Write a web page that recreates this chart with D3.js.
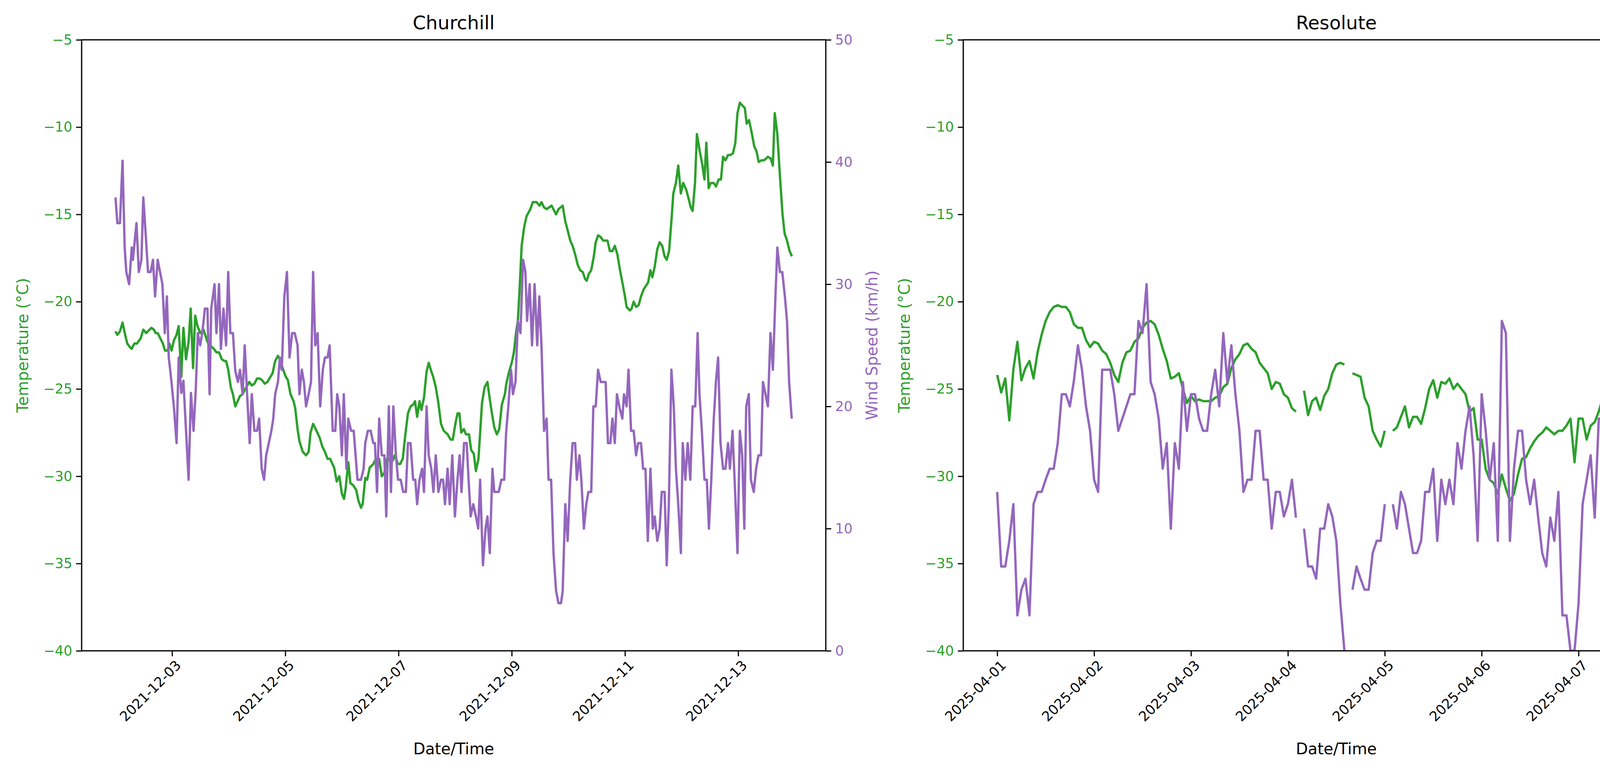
<!DOCTYPE html>
<html>
<head>
<meta charset="utf-8">
<script src="https://cdn.jsdelivr.net/npm/d3@7"></script>
<style>
body { margin: 0; background: #fff; }
text { font-family: "DejaVu Sans", sans-serif; }
</style>
</head>
<body>
<svg id="chart" width="4554" height="1980"></svg>
<script>
// Churchill: [hours since 2021-12-02 00:00, value]
var churchill_temp = [
[0,-21.7],[0.8,-21.9],[1.9,-21.7],[3,-21.2],[4.1,-21.9],[5,-22.4],[6.1,-22.6],[6.9,-22.7],[8,-22.4],[9.1,-22.4],
[10.7,-22.1],[11.8,-21.6],[13,-21.8],[15.2,-21.5],[16.3,-21.6],[17,-21.8],[17.9,-21.8],[19,-22.1],[20.1,-22.4],[21,-22.8],
[22.1,-22.8],[22.9,-22.4],[23.8,-22.8],[24.8,-22.2],[25.9,-21.9],[26.8,-21.4],[27.9,-24.3],[28.8,-21.5],[29.9,-23.3],[31,-22.3],
[31.9,-20.4],[32.9,-23.8],[33.8,-20.8],[34.8,-21.4],[35.9,-21.8],[37.3,-21.6],[39,-22.3],[40.1,-22.5],[41.7,-22.7],[42.8,-22.9],
[43.9,-22.9],[45.1,-23.3],[46.2,-23.4],[46.9,-23.4],[47.8,-23.9],[48.9,-24.9],[49.8,-25.3],[50.8,-26.0],[51.8,-25.7],[52.8,-25.4],
[53.9,-25.3],[55,-25.0],[56.7,-24.6],[57.8,-24.8],[58.9,-24.7],[60,-24.4],[61.1,-24.4],[62.2,-24.5],[63.3,-24.7],[64.4,-24.6],
[66.6,-24.1],[67.7,-23.4],[68.9,-23.1],[70,-23.4],[71.1,-23.9],[72.2,-24.3],[73.1,-24.5],[74.2,-25.3],[75.5,-25.7],[76.2,-26.1],
[77.2,-27.3],[78,-28.0],[79.4,-28.6],[80.8,-28.8],[81.9,-28.6],[82.7,-27.5],[83.8,-27.0],[84.9,-27.3],[86.6,-27.8],[87.7,-28.3],
[88.8,-28.6],[89.9,-29.0],[91,-29.0],[92.7,-29.5],[93.8,-30.3],[94.9,-30.0],[96,-31.0],[96.9,-31.3],[97.6,-30.7],[98.7,-29.2],
[99.6,-30.4],[100.7,-30.5],[102.1,-30.8],[103,-31.4],[104.1,-31.8],[104.8,-31.6],[105.9,-30.1],[106.7,-30.2],[107.8,-29.5],[109.3,-29.3],
[110.4,-29.0],[111.8,-29.0],[112.9,-30.0],[114,-29.8],[115.1,-29.0],[116.5,-29.1],[117.6,-29.1],[118.4,-28.8],[119.8,-29.3],[120.7,-29.3],
[121.8,-29.0],[122.9,-27.6],[124,-26.4],[125.1,-26.0],[126.2,-25.9],[127,-25.7],[127.9,-26.6],[128.9,-25.7],[129.7,-26.2],[130.8,-25.5],
[131.9,-24.0],[132.8,-23.5],[133.9,-24.0],[134.7,-24.3],[135.8,-24.9],[136.9,-25.8],[138,-27.0],[139.2,-27.4],[140.8,-27.6],[142.1,-27.9],
[143,-27.9],[144.1,-27.0],[145,-26.4],[145.8,-26.4],[146.6,-27.5],[147.7,-27.3],[148.6,-27.6],[149.9,-27.6],[150.8,-28.5],[151.9,-28.7],
[152.8,-29.7],[153.9,-29.0],[155.4,-25.8],[156.5,-24.9],[157.7,-24.6],[158.5,-25.4],[159.6,-26.4],[160.6,-27.2],[161.7,-27.6],[162.7,-27.3],
[163.8,-25.9],[165.1,-25.3],[165.7,-24.7],[166.7,-24.1],[168,-23.5],[168.9,-22.9],[169.9,-21.7],[170.6,-21.1],[171.4,-19.1],[172.2,-16.8],
[173.3,-15.7],[174.3,-15.1],[175.9,-14.7],[176.9,-14.3],[178.5,-14.3],[179.8,-14.5],[180.6,-14.3],[181.7,-14.6],[182.8,-14.7],[184.9,-14.5],
[186.8,-15.0],[187.8,-14.7],[189.6,-14.5],[190.7,-15.4],[191.7,-15.9],[192.8,-16.5],[193.8,-16.8],[194.9,-17.3],[196,-17.9],[197,-18.2],
[198.1,-18.3],[199.1,-18.7],[199.8,-18.8],[200.7,-18.4],[201.7,-18.2],[202.8,-17.4],[203.6,-16.6],[204.6,-16.2],[205.7,-16.3],[206.8,-16.5],
[208.6,-16.5],[209.6,-17.1],[210.7,-17.1],[211.7,-16.8],[212.8,-17.3],[213.9,-18.2],[214.9,-18.9],[216,-19.7],[216.7,-20.3],[218.1,-20.5],
[218.8,-20.4],[219.7,-20.0],[220.7,-20.3],[221.8,-20.2],[222.8,-19.7],[223.9,-19.3],[225.8,-18.9],[226.8,-18.2],[227.6,-18.6],[228.6,-18.0],
[229.7,-17.0],[230.7,-16.6],[231.8,-16.8],[232.8,-17.4],[233.7,-17.6],[234.7,-17.1],[235.8,-15.2],[236.5,-13.8],[237.6,-13.2],[238.6,-12.2],
[239.7,-13.8],[240.7,-13.2],[242,-13.6],[242.8,-14.0],[243.9,-14.6],[244.7,-14.8],[245.7,-13.2],[246.5,-10.4],[247.6,-11.3],[248.6,-12.0],
[249.7,-13.0],[250.5,-10.9],[251.5,-13.5],[252.3,-13.2],[253.6,-13.2],[254.6,-13.4],[255.7,-13.0],[256.7,-13.0],[257.6,-11.7],[258.6,-11.9],
[259.7,-11.6],[260.7,-11.6],[261.8,-11.5],[262.8,-10.9],[263.7,-9.2],[264.7,-8.6],[266,-8.8],[266.8,-8.9],[267.6,-9.8],[268.6,-9.6],
[269.7,-10.3],[270.8,-11.1],[271.8,-11.4],[272.7,-12.0],[273.9,-11.9],[275,-11.9],[276.6,-11.7],[277.8,-11.8],[278.7,-12.2],[279.5,-9.2],
[280.6,-10.4],[281.8,-13.0],[282.8,-15.0],[283.7,-16.1],[284.7,-16.5],[285.8,-17.1],[286.8,-17.4]
];

var churchill_wind = [
[0,37.1],[0.8,35.0],[1.9,35.0],[3,40.1],[3.9,33.0],[4.6,31.0],[5.8,30.0],[6.9,33.0],[7.4,32.0],[8.9,35.0],
[9.9,31.0],[11,32.0],[11.8,37.1],[13,33.5],[13.8,31.0],[14.9,31.0],[15.9,32.0],[16.8,29.0],[17.9,32.0],[19,30.9],
[19.9,30.0],[20.9,26.0],[21.8,29.0],[22.6,24.0],[23.7,22.1],[24.8,19.9],[25.9,17.0],[26.8,24.0],[27.9,21.1],[28.8,22.1],
[29.9,18.1],[31,14.0],[32,21.1],[33.1,18.0],[34,21.2],[34.9,26.0],[35.9,25.0],[36.8,26.0],[37.9,28.0],[39,28.0],
[39.9,21.0],[40.6,28.0],[42,30.0],[42.8,26.0],[43.9,30.0],[44.7,24.7],[45.8,28.0],[46.9,25.0],[47.8,31.0],[48.7,26.0],
[49.8,26.0],[50.8,22.9],[51.9,22.0],[52.8,23.0],[53.9,21.0],[54.8,25.0],[55.8,21.0],[56.9,17.0],[57.8,21.0],[58.9,18.0],
[60,18.0],[60.9,19.0],[62,14.9],[63,14.0],[63.9,16.0],[65,17.0],[66.1,18.0],[66.9,19.0],[67.7,21.0],[68.9,22.0],
[69.7,24.0],[70.5,23.0],[71.6,29.0],[72.7,31.0],[73.8,24.0],[74.9,26.0],[76,26.0],[77.2,25.0],[78,21.0],[79,23.0],
[79.9,22.0],[80.8,20.0],[81.9,21.0],[82.9,22.0],[83.8,31.0],[84.7,25.0],[85.7,26.0],[86.8,20.0],[87.9,23.0],[88.8,24.0],
[89.9,24.0],[90.8,25.0],[92.1,18.0],[93.2,18.0],[94,21.0],[94.9,20.0],[96,16.0],[96.8,21.0],[97.9,14.9],[98.7,19.0],
[99.9,18.0],[101,18.0],[102.6,14.0],[104.1,14.0],[105.2,14.9],[105.9,17.0],[107,18.0],[108.2,18.0],[109.3,17.0],[110,17.0],
[110.9,13.0],[111.8,19.0],[112.9,16.0],[114,16.0],[114.8,11.0],[115.9,20.0],[116.8,13.0],[117.8,20.0],[118.9,16.0],[119.8,14.0],
[120.9,14.0],[122,13.0],[123.1,13.0],[124,17.0],[125.1,17.0],[126.2,14.0],[127.1,14.0],[127.9,12.0],[128.9,14.0],[130,14.9],
[130.8,13.0],[131.9,20.0],[132.8,16.0],[133.9,14.9],[134.8,13.0],[135.8,16.0],[136.9,13.0],[138,14.0],[138.9,14.0],[139.7,12.0],
[140.8,14.9],[141.7,12.0],[142.8,16.0],[143.9,11.0],[145,14.0],[145.9,16.0],[146.7,13.0],[147.8,17.0],[148.9,17.0],[149.7,14.0],
[150.6,11.0],[151.7,12.0],[152.8,11.0],[153.8,10.0],[154.6,14.0],[155.8,7.0],[156.9,10.0],[157.7,11.0],[158.7,8.0],[159.8,14.9],
[160.6,13.0],[162.5,13.0],[163.6,14.0],[164.8,14.0],[165.6,17.8],[166.5,19.9],[167.7,23.0],[168.5,21.0],[169.6,22.0],[170.6,27.0],
[171.7,26.0],[172.8,32.0],[173.8,31.0],[174.5,27.0],[175.6,30.0],[176.6,25.0],[177.7,30.0],[178.8,25.0],[179.7,29.0],[180.6,25.0],
[181.7,18.0],[182.8,19.0],[183.6,14.0],[184.7,14.0],[185.7,8.0],[186.8,4.9],[187.8,3.9],[188.9,3.9],[189.6,4.9],[190.7,12.0],
[191.7,9.0],[192.8,14.0],[193.8,17.0],[194.9,17.0],[195.6,14.0],[196.7,16.0],[197.5,14.0],[198.6,10.0],[199.6,12.0],[200.5,13.0],
[201.7,13.0],[202.6,20.0],[203.6,20.0],[204.6,23.0],[205.7,22.0],[207.8,22.0],[208.8,17.0],[209.8,17.0],[210.7,19.0],[211.7,17.0],
[212.6,21.0],[213.8,19.8],[214.9,19.0],[215.6,21.0],[216.7,20.0],[217.5,23.0],[218.6,18.0],[219.7,18.0],[220.7,16.0],[221.6,17.0],
[222.8,17.0],[223.7,14.9],[224.7,14.9],[225.7,9.0],[226.8,14.9],[227.8,10.0],[228.6,11.0],[229.7,9.0],[230.7,10.0],[231.6,13.0],
[232.8,13.0],[233.7,7.0],[234.6,12.0],[235.7,23.0],[236.7,20.0],[237.6,14.9],[238.6,12.0],[239.7,8.0],[240.5,17.0],[241.6,14.0],
[242.6,17.0],[243.7,14.0],[244.7,20.0],[245.8,20.0],[246.8,26.0],[247.6,21.0],[248.6,18.0],[249.7,14.0],[250.7,14.0],[251.6,10.0],
[252.6,14.0],[253.6,18.8],[254.6,22.1],[255.5,24.0],[256.5,17.0],[257.6,14.9],[258.6,14.9],[259.7,17.0],[260.5,14.9],[261.6,18.0],
[262.7,13.0],[263.7,8.0],[264.7,18.0],[265.7,16.0],[266.6,10.0],[267.4,20.0],[268.5,21.0],[269.4,14.0],[270.6,13.0],[271.6,14.9],
[272.6,16.0],[273.7,16.0],[274.5,22.0],[275.6,21.0],[276.6,20.0],[277.7,26.0],[278.7,23.0],[279.8,29.0],[280.6,33.0],[281.7,31.0],
[282.7,31.0],[283.8,29.0],[284.7,27.0],[285.6,22.0],[286.7,19.0]
];

// Resolute: hourly from 2025-04-01 00:00, null = missing
var resolute_temp = [
-24.2,-25.2,-24.4,-26.8,-23.9,-22.3,-24.5,-23.8,-23.4,-24.4,-22.9,-21.9,-21.1,-20.6,-20.3,-20.2,-20.3,-20.3,-20.6,-21.3,
-21.5,-21.5,-22.2,-22.6,-22.3,-22.4,-22.8,-23.0,-23.5,-24.2,-24.6,-23.5,-22.9,-22.8,-22.3,-22.1,-21.5,-21.2,-21.1,-21.3,
-21.9,-22.7,-23.4,-24.4,-24.3,-24.1,-25.0,-25.8,-25.4,-25.7,-25.6,-25.7,-25.7,-25.7,-25.5,-25.4,-24.9,-24.7,-23.8,-23.3,
-23.0,-22.5,-22.4,-22.7,-22.9,-23.5,-23.8,-24.1,-25.0,-24.6,-24.7,-25.3,-25.5,-26.1,-26.3,null,-25.1,-26.5,-25.7,-25.5,
-26.2,-25.4,-25.0,-24.1,-23.6,-23.5,-23.6,null,-24.1,-24.2,-24.3,-25.5,-26.0,-27.4,-27.9,-28.3,-27.4,null,-27.4,-27.2,
-26.6,-26.0,-27.2,-26.6,-26.6,-27.0,-26.1,-25.0,-24.5,-25.5,-24.6,-24.7,-24.4,-25.0,-24.7,-25.0,-25.3,-26.3,-26.1,-27.9,
-27.9,-29.6,-30.2,-30.4,-31.0,-29.9,-30.7,-31.4,-31.0,-29.9,-29.0,-28.9,-28.4,-28.0,-27.7,-27.5,-27.2,-27.4,-27.6,-27.4,
-27.4,-27.1,-26.7,-29.2,-26.7,-26.7,-27.9,-27.1,-26.9,-26.3,-25.5,-25.2,-23.6,-22.4,-22.4,-22.7,-22.4,-21.8,-21.6,-21.2,
-21.2,-21.1,-21.3,-21.7,-21.8,-22.0,-21.9,-21.3,-20.9
];

var resolute_wind = [
13.0,6.9,6.9,9.0,12.0,2.9,5.0,5.9,2.9,12.0,13.0,13.0,14.0,14.9,14.9,17.0,21.0,21.0,20.0,22.1,
25.0,23.0,20.0,18.0,14.0,13.0,23.0,23.0,23.0,21.0,18.0,19.0,20.0,21.0,21.0,27.0,26.0,30.0,22.0,21.0,
19.0,14.9,17.0,10.0,17.0,14.9,22.0,18.0,21.0,21.0,19.0,18.0,18.0,21.0,23.0,20.0,26.0,22.0,25.0,21.0,
18.0,13.0,14.0,14.0,18.0,18.0,14.0,14.0,10.0,13.0,13.0,11.0,12.0,14.0,10.9,null,10.0,6.9,6.9,5.9,
10.0,10.0,12.0,11.0,9.0,3.9,0,null,5.0,6.9,5.9,5.0,5.0,8.0,9.0,9.0,12.0,null,12.0,10.0,
13.0,12.0,10.0,8.0,8.0,9.0,13.0,13.0,14.9,9.0,14.0,12.0,14.0,12.0,17.0,14.9,18.0,20.0,16.0,9.0,
21.0,18.0,14.0,17.0,9.0,27.0,26.0,9.0,14.9,18.0,18.0,14.0,12.0,14.0,10.9,8.0,6.9,10.9,9.0,13.0,
2.9,2.9,0,0,3.9,12.0,14.0,16.0,10.9,19.0,19.0,23.0,30.0,26.0,28.0,39.1,33.0,31.0,32.0,33.0,
35.9,41.1,35.0,40.1,42.0,41.1,42.1,45.1,46.1
];

var HOUR = 3600 * 1000;
var green = "#2ca02c", purple = "#9467bd";
var svg = d3.select("#chart");

function toSeries(start, pairs) {
    return pairs.map(function(p) { return {t: new Date(start + p[0] * HOUR), v: p[1]}; });
}
function hourly(start, arr) {
    return arr.map(function(v, i) { return {t: new Date(start + i * HOUR), v: v}; });
}

var c0 = Date.UTC(2021, 11, 2), r0 = Date.UTC(2025, 3, 1);
var panels = [
    {title: "Churchill", left: 209, right: 2114, temp: toSeries(c0, churchill_temp), wind: toSeries(c0, churchill_wind),
     ticks: d3.utcDay.range(new Date(Date.UTC(2021, 11, 3)), new Date(Date.UTC(2021, 11, 14)), 2)},
    {title: "Resolute", left: 2466, right: 4376, temp: hourly(r0, resolute_temp), wind: hourly(r0, resolute_wind),
     ticks: d3.utcDay.range(new Date(r0), new Date(Date.UTC(2025, 3, 9)))}
];
var plotTop = 102, plotBottom = 1667;
var fmt = d3.utcFormat("%Y-%m-%d");

panels.forEach(function(p) {
    var ext = d3.extent(p.temp.concat(p.wind), function(d) { return d.t; });
    var pad = (ext[1] - ext[0]) * 0.05;
    var x = d3.scaleUtc().domain([new Date(+ext[0] - pad), new Date(+ext[1] + pad)]).range([p.left, p.right]);
    var yT = d3.scaleLinear().domain([-40, -5]).range([plotBottom, plotTop]);
    var yW = d3.scaleLinear().domain([0, 50]).range([plotBottom, plotTop]);

    var clipId = "clip-" + p.title;
    svg.append("clipPath").attr("id", clipId).append("rect")
        .attr("x", p.left).attr("y", plotTop).attr("width", p.right - p.left).attr("height", plotBottom - plotTop);

    var g = svg.append("g").attr("clip-path", "url(#" + clipId + ")");
    var lineT = d3.line().defined(function(d) { return d.v !== null; })
        .x(function(d) { return x(d.t); }).y(function(d) { return yT(d.v); });
    var lineW = d3.line().defined(function(d) { return d.v !== null; })
        .x(function(d) { return x(d.t); }).y(function(d) { return yW(d.v); });
    g.append("path").datum(p.temp).attr("d", lineT)
        .attr("fill", "none").attr("stroke", green).attr("stroke-width", 6).attr("stroke-linejoin", "round");
    g.append("path").datum(p.wind).attr("d", lineW)
        .attr("fill", "none").attr("stroke", purple).attr("stroke-width", 6).attr("stroke-linejoin", "round");

    // frame
    svg.append("rect").attr("x", p.left).attr("y", plotTop).attr("width", p.right - p.left).attr("height", plotBottom - plotTop)
        .attr("fill", "none").attr("stroke", "#000").attr("stroke-width", 3.2);

    var ax = svg.append("g").attr("transform", "translate(0," + plotBottom + ")")
        .call(d3.axisBottom(x).tickValues(p.ticks).tickFormat(fmt).tickSize(14).tickPadding(10));
    ax.selectAll("text").attr("font-size", 35).attr("text-anchor", "end")
        .attr("transform", "rotate(-45)").attr("dx", "-0.3em").attr("dy", "0.6em");

    var al = svg.append("g").attr("transform", "translate(" + p.left + ",0)")
        .call(d3.axisLeft(yT).tickValues(d3.range(-40, -4, 5)).tickFormat(function(d) { return String(d).replace("-", "\u2212"); }).tickSize(14).tickPadding(10));
    al.selectAll("text").attr("font-size", 35).attr("fill", green);

    var ar = svg.append("g").attr("transform", "translate(" + p.right + ",0)")
        .call(d3.axisRight(yW).tickValues(d3.range(0, 51, 10)).tickSize(14).tickPadding(10));
    ar.selectAll("text").attr("font-size", 35).attr("fill", purple);

    [ax, al, ar].forEach(function(a) {
        a.select(".domain").remove();
        a.selectAll("line").attr("stroke-width", 3);
    });

    var mid = (p.left + p.right) / 2;
    svg.append("text").attr("x", mid).attr("y", 75).attr("text-anchor", "middle")
        .attr("font-size", 48).text(p.title);
    svg.append("text").attr("x", mid).attr("y", 1932).attr("text-anchor", "middle")
        .attr("font-size", 40).text("Date/Time");
    svg.append("text").attr("transform", "translate(" + (p.left - 137) + "," + ((plotTop + plotBottom) / 2) + ") rotate(-90)")
        .attr("text-anchor", "middle").attr("font-size", 40).attr("fill", green).text("Temperature (°C)");
    svg.append("text").attr("transform", "translate(" + (p.right + 132) + "," + ((plotTop + plotBottom) / 2) + ") rotate(-90)")
        .attr("text-anchor", "middle").attr("font-size", 40).attr("fill", purple).text("Wind Speed (km/h)");
});
</script>
</body>
</html>
